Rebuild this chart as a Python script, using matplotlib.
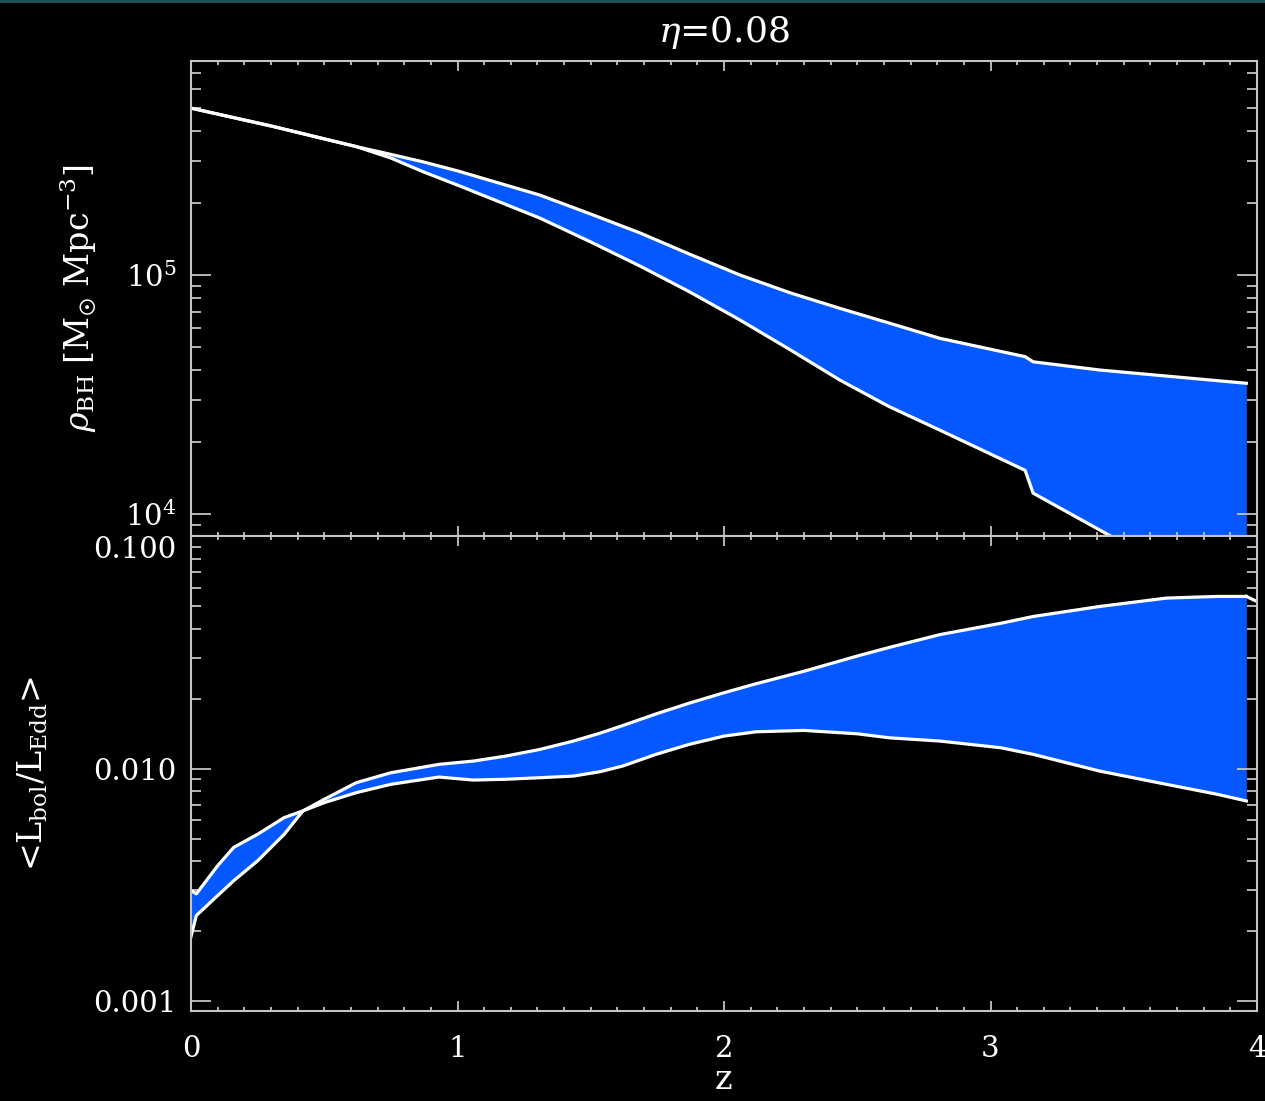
import matplotlib
matplotlib.use("Agg")
import matplotlib.pyplot as plt
from matplotlib.lines import Line2D
from matplotlib.ticker import LogLocator, MultipleLocator, NullFormatter

plt.rcParams["font.family"] = ["DejaVu Serif"]
plt.rcParams["mathtext.fontset"] = "dejavuserif"

# top panel: black hole mass density band
z_rho = [0.00, 0.30, 0.62, 0.75, 0.87, 1.00, 1.31, 1.50, 1.685, 1.87,
         2.06, 2.25, 2.435, 2.62, 2.81, 3.13, 3.16, 3.41, 3.96]
rho_hi = [5.0e5, 4.21e5, 3.45e5, 3.20e5, 2.98e5, 2.73e5, 2.16e5, 1.80e5, 1.50e5, 1.224e5,
          1.0e5, 8.41e4, 7.25e4, 6.29e4, 5.43e4, 4.55e4, 4.33e4, 4.0e4, 3.52e4]
rho_lo = [5.0e5, 4.21e5, 3.45e5, 3.09e5, 2.71e5, 2.38e5, 1.73e5, 1.375e5, 1.09e5, 8.51e4,
          6.48e4, 4.85e4, 3.63e4, 2.81e4, 2.24e4, 1.52e4, 1.22e4, 8.55e3, 3.9e3]

# bottom panel: mean Eddington ratio band
z_edd = [0.00, 0.02, 0.10, 0.16, 0.25, 0.35, 0.42, 0.50, 0.62, 0.75,
         0.93, 1.06, 1.18, 1.31, 1.435, 1.535, 1.62, 1.745, 1.87, 2.00,
         2.12, 2.30, 2.50, 2.62, 2.81, 3.04, 3.16, 3.41, 3.66, 3.85, 3.96]
edd_hi = [3.0e-3, 2.9e-3, 3.83e-3, 4.59e-3, 5.23e-3, 6.17e-3, 6.59e-3, 7.39e-3, 8.71e-3, 9.61e-3,
          1.044e-2, 1.079e-2, 1.133e-2, 1.211e-2, 1.315e-2, 1.422e-2, 1.533e-2, 1.720e-2, 1.914e-2, 2.121e-2,
          2.318e-2, 2.623e-2, 3.05e-2, 3.32e-2, 3.77e-2, 4.22e-2, 4.51e-2, 4.98e-2, 5.41e-2, 5.50e-2, 5.50e-2]
edd_lo = [1.9e-3, 2.34e-3, 2.85e-3, 3.30e-3, 4.02e-3, 5.23e-3, 6.59e-3, 7.15e-3, 7.89e-3, 8.57e-3,
          9.21e-3, 8.94e-3, 9.01e-3, 9.15e-3, 9.30e-3, 9.71e-3, 1.027e-2, 1.153e-2, 1.273e-2, 1.381e-2,
          1.441e-2, 1.461e-2, 1.413e-2, 1.358e-2, 1.315e-2, 1.23e-2, 1.153e-2, 9.77e-3, 8.57e-3, 7.77e-3, 7.27e-3]
z_edd_tail = [3.96, 4.00]
edd_hi_tail = [5.50e-2, 5.23e-2]

x_ticks = [0, 1, 2, 3, 4]
rho_ticks = [1e4, 1e5]
rho_ticklabels = ["$10^4$", "$10^5$"]
edd_ticks = [1e-3, 1e-2, 1e-1]
edd_ticklabels = ["0.001", "0.010", "0.100"]

BLUE = "#0558ff"
AXCOL = "#c4c4c4"


def style(ax):
    ax.set_facecolor("black")
    for s in ax.spines.values():
        s.set_color(AXCOL)
        s.set_linewidth(1.5)
    ax.tick_params(which="both", direction="in", top=True, right=True,
                   color=AXCOL, labelcolor="white", width=1.3, labelsize=21)
    ax.tick_params(axis="y", which="major", length=14.4, pad=10.5)
    ax.tick_params(axis="y", which="minor", length=7.2)
    ax.tick_params(axis="x", which="major", length=7.2, pad=17)
    ax.tick_params(axis="x", which="minor", length=3.2)
    ax.set_yscale("log")
    ax.yaxis.set_minor_locator(LogLocator(base=10, subs=range(2, 10)))
    ax.yaxis.set_minor_formatter(NullFormatter())
    ax.set_xlim(0, 4)
    ax.set_xticks(x_ticks)
    ax.xaxis.set_minor_locator(MultipleLocator(0.1))


fig = plt.figure(figsize=(12.65, 11.01), dpi=100, facecolor="black")
left, w = 191 / 1265, 1066 / 1265
top, mid, bot = 1 - 60.7 / 1101, 1 - 536 / 1101, 1 - 1011 / 1101
ax1 = fig.add_axes([left, mid, w, top - mid])
ax2 = fig.add_axes([left, bot, w, mid - bot])

# top panel
style(ax1)
ax1.fill_between(z_rho, rho_lo, rho_hi, color=BLUE, lw=0)
ax1.plot(z_rho, rho_hi, color="white", lw=2.3)
ax1.plot(z_rho, rho_lo, color="white", lw=2.3)
ax1.set_ylim(8.07e3, 7.9e5)
ax1.set_yticks(rho_ticks)
ax1.set_yticklabels(rho_ticklabels)
ax1.tick_params(labelbottom=False)
ax1.set_ylabel("$\\rho_{\\rm BH}$ [M$_{☉}$ Mpc$^{-3}$]", fontsize=24, color="white")
ax1.yaxis.set_label_coords(-0.106, 0.5)
ax1.yaxis.label.set_va("center")

# bottom panel
style(ax2)
ax2.fill_between(z_edd, edd_lo, edd_hi, color=BLUE, lw=0)
ax2.plot(z_edd, edd_hi, color="white", lw=2.3)
ax2.plot(z_edd_tail, edd_hi_tail, color="white", lw=2.3)
ax2.plot(z_edd, edd_lo, color="white", lw=2.3)
ax2.set_ylim(9.1e-4, 0.1)
ax2.set_yticks(edd_ticks)
ax2.set_yticklabels(edd_ticklabels)
ax2.get_yticklabels()[2].set_va("top")
ax2.set_ylabel(r"<L$_{\rm bol}$/L$_{\rm Edd}$>", fontsize=24, color="white")
ax2.yaxis.set_label_coords(-0.148, 0.5)
ax2.yaxis.label.set_va("center")
ax2.set_xticklabels([str(t) for t in x_ticks])
ax2.set_xlabel("z", fontsize=24, color="white")
ax2.xaxis.set_label_coords(0.5, -0.145)
ax2.xaxis.label.set_va("center")

fig.text(724 / 1265, 1 - 42 / 1101, r"$\eta$=0.08", color="white", fontsize=26,
         ha="center", va="baseline")
fig.add_artist(Line2D([0, 1], [1 - 1 / 1101, 1 - 1 / 1101], transform=fig.transFigure,
                      color="#1e5a5a", lw=2))

fig.savefig("out.png", dpi=100, facecolor="black")
